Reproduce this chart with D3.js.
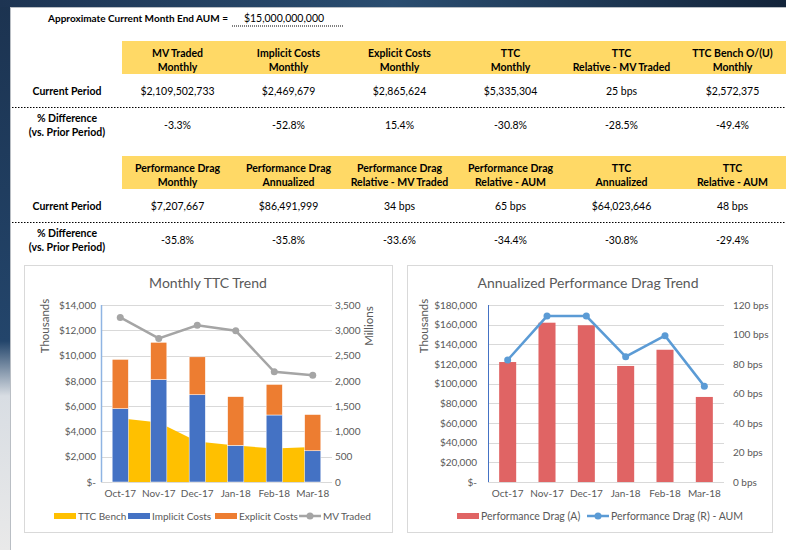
<!DOCTYPE html>
<html>
<head>
<meta charset="utf-8">
<script src="https://cdn.jsdelivr.net/npm/d3@7"></script>
<style>
  body { margin: 0; background: #fff; }
  text { font-family: Lato, "Open Sans", sans-serif; }
</style>
</head>
<body>
<div id="chart"></div>
<script>
// summary tables
var aumLabel = "Approximate Current Month End AUM =";
var aumValue = "$15,000,000,000";

var headers1 = [["MV Traded", "Monthly"], ["Implicit Costs", "Monthly"], ["Explicit Costs", "Monthly"],
  ["TTC", "Monthly"], ["TTC", "Relative - MV Traded"], ["TTC Bench O/(U)", "Monthly"]];
var current1 = ["$2,109,502,733", "$2,469,679", "$2,865,624", "$5,335,304", "25 bps", "$2,572,375"];
var diff1 = ["-3.3%", "-52.8%", "15.4%", "-30.8%", "-28.5%", "-49.4%"];

var headers2 = [["Performance Drag", "Monthly"], ["Performance Drag", "Annualized"], ["Performance Drag", "Relative - MV Traded"],
  ["Performance Drag", "Relative - AUM"], ["TTC", "Annualized"], ["TTC", "Relative - AUM"]];
var current2 = ["$7,207,667", "$86,491,999", "34 bps", "65 bps", "$64,023,646", "48 bps"];
var diff2 = ["-35.8%", "-35.8%", "-33.6%", "-34.4%", "-30.8%", "-29.4%"];

// chart data (thousands / millions / bps)
var months = ["Oct-17", "Nov-17", "Dec-17", "Jan-18", "Feb-18", "Mar-18"];
var ttcBench = [5050, 4700, 3200, 2880, 2650, 2763];
var implicitCosts = [5800, 8100, 6900, 2900, 5300, 2470];
var explicitCosts = [3900, 2950, 3000, 3850, 2420, 2866];
var mvTraded = [3255, 2840, 3100, 2990, 2180, 2110];

var perfDragA = [122000, 162000, 159400, 118000, 134500, 86492];
var perfDragBps = [82.7, 112.5, 112.5, 85, 99.2, 65];

var leftTicks = [0, 2000, 4000, 6000, 8000, 10000, 12000, 14000];
var rightTicks = [0, 500, 1000, 1500, 2000, 2500, 3000, 3500];
var dragTicks = [0, 20000, 40000, 60000, 80000, 100000, 120000, 140000, 160000, 180000];
var bpsTicks = [0, 20, 40, 60, 80, 100, 120];

var W = 786, H = 550;
var svg = d3.select("#chart").append("svg")
  .attr("width", W)
  .attr("height", H);

var defs = svg.append("defs");
var g1 = defs.append("linearGradient").attr("id", "sideGrad")
  .attr("x1", 0).attr("y1", 0).attr("x2", 0).attr("y2", 1);
g1.append("stop").attr("offset", "0%").attr("stop-color", "#1c3350");
g1.append("stop").attr("offset", "62%").attr("stop-color", "#23456b");
g1.append("stop").attr("offset", "72%").attr("stop-color", "#d8dde3");
g1.append("stop").attr("offset", "100%").attr("stop-color", "#e9e9e9");
var g2 = defs.append("linearGradient").attr("id", "topGrad")
  .attr("x1", 0).attr("y1", 0).attr("x2", 1).attr("y2", 0);
g2.append("stop").attr("offset", "0%").attr("stop-color", "#1d3452");
g2.append("stop").attr("offset", "50%").attr("stop-color", "#2a4d70");
g2.append("stop").attr("offset", "100%").attr("stop-color", "#13243a");

svg.append("rect").attr("width", W).attr("height", H).attr("fill", "#fff");
svg.append("rect").attr("x", 0).attr("y", 0).attr("width", 10).attr("height", H).attr("fill", "url(#sideGrad)");
svg.append("rect").attr("x", 0).attr("y", 0).attr("width", W).attr("height", 7).attr("fill", "url(#topGrad)");
svg.append("line").attr("x1", 10).attr("x2", W).attr("y1", 7.5).attr("y2", 7.5).attr("stroke", "#b9bec4");
svg.append("line").attr("x1", 10.5).attr("x2", 10.5).attr("y1", 7).attr("y2", H).attr("stroke", "#b9bec4");

// AUM line
svg.append("text").text(aumLabel)
  .attr("x", 138).attr("y", 22)
  .attr("text-anchor", "middle")
  .style("font-size", "10px").style("font-weight", "bold");
svg.append("text").text(aumValue)
  .attr("x", 284).attr("y", 22)
  .attr("text-anchor", "middle")
  .style("font-size", "10.5px");
svg.append("line").attr("x1", 232).attr("x2", 343).attr("y1", 26).attr("y2", 26)
  .attr("stroke", "#000").attr("stroke-dasharray", "1,1");

var col = d3.scaleBand().domain(d3.range(6)).range([122, 788]);

function drawTable(top, headers, current, diff) {
  var t = svg.append("g");
  t.append("rect").attr("x", 122).attr("y", top).attr("width", W - 122).attr("height", 33).attr("fill", "#ffd966");
  headers.forEach(function(h, i) {
    var cx = col(i) + col.bandwidth() / 2;
    h.forEach(function(line, j) {
      t.append("text").text(line)
        .attr("x", cx).attr("y", top + 15.5 + j * 14)
        .attr("text-anchor", "middle")
        .style("font-size", "10.5px").style("font-weight", "bold");
    });
    t.append("text").text(current[i])
      .attr("x", cx).attr("y", top + 54)
      .attr("text-anchor", "middle")
      .style("font-size", "10.5px");
    t.append("text").text(diff[i])
      .attr("x", cx).attr("y", top + 88)
      .attr("text-anchor", "middle")
      .style("font-size", "10.5px");
  });
  t.append("text").text("Current Period")
    .attr("x", 67).attr("y", top + 54)
    .attr("text-anchor", "middle")
    .style("font-size", "10.5px").style("font-weight", "bold");
  t.append("line").attr("x1", 12).attr("x2", W).attr("y1", top + 66.5).attr("y2", top + 66.5)
    .attr("stroke", "#000").attr("stroke-dasharray", "1.5,1.5");
  t.append("text").text("% Difference")
    .attr("x", 67).attr("y", top + 81)
    .attr("text-anchor", "middle")
    .style("font-size", "10.5px").style("font-weight", "bold");
  t.append("text").text("(vs. Prior Period)")
    .attr("x", 67).attr("y", top + 95)
    .attr("text-anchor", "middle")
    .style("font-size", "10.5px").style("font-weight", "bold");
}
drawTable(41, headers1, current1, diff1);
drawTable(156, headers2, current2, diff2);

var grey = "#595959";
var dollar = function(d) { return d === 0 ? "$-" : "$" + d3.format(",")(d); };

function frame(x0, x1, title, cx) {
  svg.append("rect").attr("x", x0 + 0.5).attr("y", 265.5).attr("width", x1 - x0).attr("height", 267)
    .attr("fill", "#fff").attr("stroke", "#d9d9d9");
  svg.append("text").text(title)
    .attr("x", cx).attr("y", 288)
    .attr("text-anchor", "middle")
    .attr("fill", grey)
    .style("font-size", "14px");
}

function styleAxis(a) {
  a.select(".domain").remove();
  a.selectAll("text").attr("fill", grey).style("font-size", "10px").style("font-family", "Lato, sans-serif");
}

// ---- Monthly TTC Trend ----
frame(24, 392, "Monthly TTC Trend", 208);

var xL = d3.scaleBand().domain(months).range([101, 332]).paddingInner(0.58).paddingOuter(0.29);
var yL = d3.scaleLinear().domain([0, 14000]).range([482, 305]);
var yR = d3.scaleLinear().domain([0, 3500]).range([482, 305]);

svg.append("g").selectAll("line").data(leftTicks).join("line")
  .attr("x1", 101).attr("x2", 332)
  .attr("y1", d => Math.round(yL(d)) + 0.5).attr("y2", d => Math.round(yL(d)) + 0.5)
  .attr("stroke", "#d9d9d9");

var ax = svg.append("g").attr("transform", "translate(96,0)")
  .call(d3.axisLeft(yL).tickValues(leftTicks).tickFormat(dollar).tickSize(0).tickPadding(0));
styleAxis(ax);
var ax2 = svg.append("g").attr("transform", "translate(335,0)")
  .call(d3.axisRight(yR).tickValues(rightTicks).tickFormat(d3.format(",")).tickSize(0).tickPadding(0));
styleAxis(ax2);
var ax3 = svg.append("g").attr("transform", "translate(0,482)")
  .call(d3.axisBottom(xL).tickSize(0).tickPadding(8));
styleAxis(ax3);

svg.append("text").text("Thousands")
  .attr("transform", "translate(49,326) rotate(-90)")
  .attr("text-anchor", "middle").attr("fill", grey).style("font-size", "11.5px");
svg.append("text").text("Millions")
  .attr("transform", "translate(373,326) rotate(-90)")
  .attr("text-anchor", "middle").attr("fill", grey).style("font-size", "11.5px");

var bw = xL.bandwidth();
var area = d3.area()
  .x((d, i) => xL(months[i]) + bw / 2)
  .y0(yL(0))
  .y1(d => yL(d));
svg.append("path").datum(ttcBench).attr("d", area).attr("fill", "#ffc000");

var costRows = months.map(function(m, i) {
  return { month: m, implicit: implicitCosts[i], explicit: explicitCosts[i] };
});
var stacked = d3.stack().keys(["implicit", "explicit"])(costRows);
var costColors = { implicit: "#4472c4", explicit: "#ed7d31" };
svg.append("g").selectAll("g").data(stacked).join("g")
  .attr("fill", d => costColors[d.key])
  .selectAll("rect").data(d => d).join("rect")
  .attr("x", d => xL(d.data.month))
  .attr("width", bw)
  .attr("y", d => yL(d[1]))
  .attr("height", d => yL(d[0]) - yL(d[1]))
  .attr("stroke", "#fff").attr("stroke-width", 0.5);

var mvLine = d3.line().x((d, i) => xL(months[i]) + bw / 2).y(d => yR(d));
svg.append("path").datum(mvTraded).attr("d", mvLine)
  .attr("fill", "none").attr("stroke", "#a5a5a5").attr("stroke-width", 2.5);
svg.append("g").selectAll("circle").data(mvTraded).join("circle")
  .attr("cx", (d, i) => xL(months[i]) + bw / 2)
  .attr("cy", d => yR(d))
  .attr("r", 3.5).attr("fill", "#a5a5a5");

svg.append("line").attr("x1", 101.5).attr("x2", 101.5).attr("y1", 305).attr("y2", 482)
  .attr("stroke", "#8fb4e3").attr("stroke-width", 1.5);

// legend
var legL = [
  { label: "TTC Bench", color: "#ffc000", x: 54 },
  { label: "Implicit Costs", color: "#4472c4", x: 128 },
  { label: "Explicit Costs", color: "#ed7d31", x: 215 },
  { label: "MV Traded", color: "#a5a5a5", x: 299, line: true }
];
legL.forEach(function(l) {
  if (l.line) {
    svg.append("line").attr("x1", l.x).attr("x2", l.x + 22).attr("y1", 516).attr("y2", 516)
      .attr("stroke", l.color).attr("stroke-width", 2.5);
    svg.append("circle").attr("cx", l.x + 11).attr("cy", 516).attr("r", 3.5).attr("fill", l.color);
  } else {
    svg.append("rect").attr("x", l.x).attr("y", 513).attr("width", 22).attr("height", 6).attr("fill", l.color);
  }
  svg.append("text").text(l.label)
    .attr("x", l.x + 24).attr("y", 520)
    .attr("fill", grey).style("font-size", "10px");
});

// ---- Annualized Performance Drag Trend ----
frame(407, 772, "Annualized Performance Drag Trend", 588);

var xD = d3.scaleBand().domain(months).range([488, 724]).paddingInner(0.567).paddingOuter(0.2835);
var yD = d3.scaleLinear().domain([0, 180000]).range([482, 305]);
var yB = d3.scaleLinear().domain([0, 120]).range([482, 305]);

svg.append("g").selectAll("line").data(dragTicks).join("line")
  .attr("x1", 488).attr("x2", 724)
  .attr("y1", d => Math.round(yD(d)) + 0.5).attr("y2", d => Math.round(yD(d)) + 0.5)
  .attr("stroke", "#d9d9d9");

var bx = svg.append("g").attr("transform", "translate(477,0)")
  .call(d3.axisLeft(yD).tickValues(dragTicks).tickFormat(dollar).tickSize(0).tickPadding(0));
styleAxis(bx);
var bx2 = svg.append("g").attr("transform", "translate(733,0)")
  .call(d3.axisRight(yB).tickValues(bpsTicks).tickFormat(d => d + " bps").tickSize(0).tickPadding(0));
styleAxis(bx2);
var bx3 = svg.append("g").attr("transform", "translate(0,482)")
  .call(d3.axisBottom(xD).tickSize(0).tickPadding(8));
styleAxis(bx3);

svg.append("text").text("Thousands")
  .attr("transform", "translate(428,326) rotate(-90)")
  .attr("text-anchor", "middle").attr("fill", grey).style("font-size", "11.5px");

var bw2 = xD.bandwidth();
svg.append("g").selectAll("rect").data(perfDragA).join("rect")
  .attr("x", (d, i) => xD(months[i]))
  .attr("width", bw2)
  .attr("y", d => yD(d))
  .attr("height", d => yD(0) - yD(d))
  .attr("fill", "#e06464");

var bpsLine = d3.line().x((d, i) => xD(months[i]) + bw2 / 2).y(d => yB(d));
svg.append("path").datum(perfDragBps).attr("d", bpsLine)
  .attr("fill", "none").attr("stroke", "#5b9bd5").attr("stroke-width", 2.5);
svg.append("g").selectAll("circle").data(perfDragBps).join("circle")
  .attr("cx", (d, i) => xD(months[i]) + bw2 / 2)
  .attr("cy", d => yB(d))
  .attr("r", 3.5).attr("fill", "#5b9bd5");

svg.append("line").attr("x1", 488.5).attr("x2", 488.5).attr("y1", 305).attr("y2", 482)
  .attr("stroke", "#4472c4").attr("stroke-width", 1);

var legR = [
  { label: "Performance Drag (A)", color: "#e06464", x: 457 },
  { label: "Performance Drag (R) - AUM", color: "#5b9bd5", x: 587, line: true }
];
legR.forEach(function(l) {
  if (l.line) {
    svg.append("line").attr("x1", l.x).attr("x2", l.x + 22).attr("y1", 516).attr("y2", 516)
      .attr("stroke", l.color).attr("stroke-width", 2.5);
    svg.append("circle").attr("cx", l.x + 11).attr("cy", 516).attr("r", 3.5).attr("fill", l.color);
  } else {
    svg.append("rect").attr("x", l.x).attr("y", 513).attr("width", 22).attr("height", 6).attr("fill", l.color);
  }
  svg.append("text").text(l.label)
    .attr("x", l.x + 24).attr("y", 520)
    .attr("fill", grey).style("font-size", "10.5px");
});
</script>
</body>
</html>
